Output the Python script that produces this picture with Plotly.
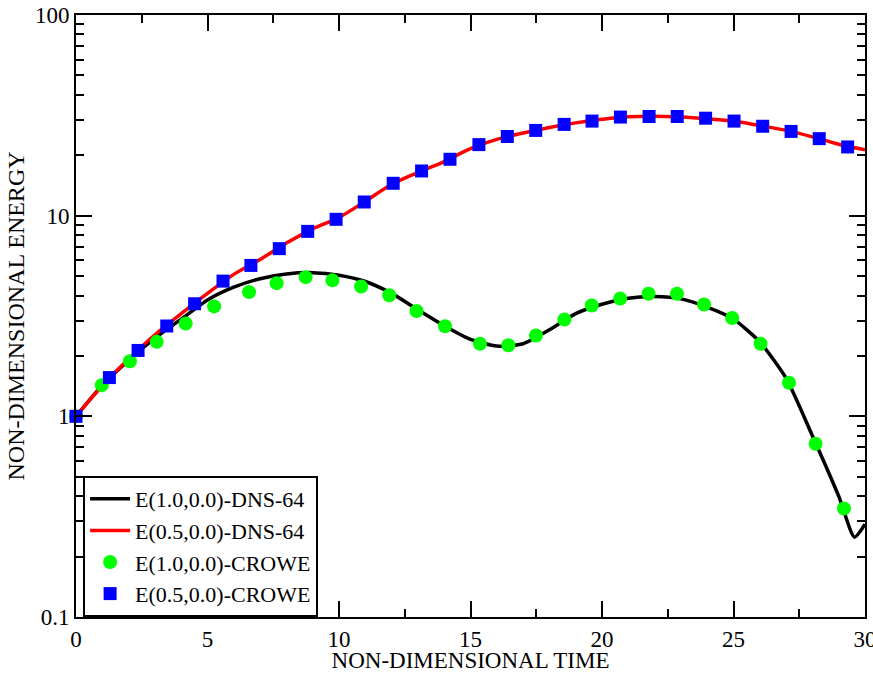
import plotly.graph_objects as go

# ---- data ----
t_dns = [0, 1, 2, 3, 4, 5, 6, 7, 8, 9, 10, 11, 12, 13, 14, 15, 16, 17, 18, 19,
         20, 21, 22, 23, 24, 25, 26, 27, 28, 29, 29.6, 30]
e10_dns = [1.0, 1.43, 1.9, 2.45, 3.05, 3.8, 4.4, 4.85, 5.12, 5.2, 5.05, 4.7, 4.1,
           3.4, 2.83, 2.42, 2.24, 2.3, 2.7, 3.25, 3.62, 3.88, 3.95, 3.85, 3.5,
           3.05, 2.35, 1.55, 0.8, 0.4, 0.25, 0.29]
t_dns05 = [0, 1, 2, 3, 4, 5, 6, 7, 8, 9, 10, 11, 12, 13, 14, 15, 16, 17, 18, 19,
           20, 21, 22, 23, 24, 25, 26, 27, 28, 29, 30]
e05_dns = [1.0, 1.42, 1.93, 2.55, 3.25, 4.1, 5.1, 6.05, 7.3, 8.6, 9.8, 11.8, 14.3,
           16.4, 18.6, 21.6, 24.0, 25.8, 27.5, 29.0, 30.2, 31.1, 31.3, 31.0, 30.4,
           29.6, 28.1, 26.6, 24.7, 22.7, 21.3]

t_crowe10 = [0, 0.98, 2.05, 3.07, 4.17, 5.25, 6.58, 7.63, 8.73, 9.75, 10.84, 11.91,
             12.95, 14.03, 15.36, 16.44, 17.49, 18.57, 19.61, 20.69, 21.77, 22.85,
             23.88, 24.95, 26.03, 27.11, 28.12, 29.2]
e10_crowe = [1.0, 1.43, 1.88, 2.35, 2.9, 3.53, 4.16, 4.61, 4.94, 4.76, 4.44, 4.01,
             3.35, 2.81, 2.3, 2.26, 2.53, 3.04, 3.57, 3.86, 4.08, 4.08, 3.61, 3.09,
             2.3, 1.47, 0.73, 0.347]

t_crowe05 = [0, 1.27, 2.36, 3.45, 4.51, 5.59, 6.65, 7.73, 8.81, 9.89, 10.96, 12.06,
             13.14, 14.22, 15.32, 16.40, 17.48, 18.56, 19.62, 20.70, 21.79, 22.86,
             23.94, 25.02, 26.11, 27.19, 28.26, 29.34]
e05_crowe = [1.0, 1.56, 2.13, 2.82, 3.64, 4.72, 5.65, 6.85, 8.35, 9.59, 11.7, 14.5,
             16.7, 19.1, 22.6, 24.8, 26.6, 28.5, 29.6, 31.0, 31.2, 31.2, 30.6, 29.6,
             27.9, 26.3, 24.2, 22.0]

x_ticks = [0, 5, 10, 15, 20, 25, 30]
y_ticks = [0.1, 1, 10, 100]
y_ticktext = ["0.1", "1", "10", "100"]
y_minor = [0.2, 0.3, 0.4, 0.5, 0.6, 0.7, 0.8, 0.9,
           2, 3, 4, 5, 6, 7, 8, 9,
           20, 30, 40, 50, 60, 70, 80, 90]

FONT = "Liberation Serif, Times New Roman, serif"

fig = go.Figure()
fig.add_trace(go.Scatter(x=t_dns, y=e10_dns, mode="lines", name="E(1.0,0.0)-DNS-64",
                         line=dict(color="#000000", width=3.5, shape="spline",
                                   smoothing=0.6)))
fig.add_trace(go.Scatter(x=t_dns05, y=e05_dns, mode="lines", name="E(0.5,0.0)-DNS-64",
                         line=dict(color="#ff0000", width=3.5, shape="spline")))
fig.add_trace(go.Scatter(x=t_crowe10, y=e10_crowe, mode="markers", name="E(1.0,0.0)-CROWE",
                         marker=dict(symbol="circle", size=14, color="#00ff00",
                                     line=dict(width=0)), cliponaxis=False))
fig.add_trace(go.Scatter(x=t_crowe05, y=e05_crowe, mode="markers", name="E(0.5,0.0)-CROWE",
                         marker=dict(symbol="square", size=13, color="#0000ff",
                                     line=dict(width=0)), cliponaxis=False))

axis_common = dict(showline=True, linecolor="black", linewidth=2, mirror="ticks",
                   ticks="inside", ticklen=16, tickwidth=2, tickcolor="black",
                   showgrid=False, zeroline=False, ticklabeloverflow="allow",
                   tickfont=dict(family=FONT, size=23, color="black"))

fig.update_xaxes(range=[0, 30], tickmode="array", tickvals=x_ticks,
                 minor=dict(ticks="inside", ticklen=8, tickwidth=2, tickcolor="black",
                            dtick=2.5, showgrid=False),
                 title=dict(text="NON-DIMENSIONAL TIME", standoff=0,
                            font=dict(family=FONT, size=23, color="black")),
                 **axis_common)
fig.update_yaxes(type="log", range=[-1, 2], tickmode="array", tickvals=y_ticks,
                 ticktext=y_ticktext,
                 minor=dict(ticks="inside", ticklen=8, tickwidth=2, tickcolor="black",
                            tickmode="array", tickvals=y_minor, showgrid=False),
                 title=dict(text="NON-DIMENSIONAL ENERGY", standoff=4,
                            font=dict(family=FONT, size=24, color="black")),
                 **axis_common)

fig.update_layout(
    width=873, height=673,
    margin=dict(l=76, r=8, t=15, b=56, autoexpand=False),
    paper_bgcolor="white", plot_bgcolor="white",
    showlegend=True,
    legend=dict(x=0.009, y=0, xanchor="left", yanchor="bottom",
                bgcolor="white", bordercolor="black", borderwidth=2,
                font=dict(family=FONT, size=22, color="black"),
                tracegroupgap=0, itemwidth=40),
)

fig.write_html("out.html", config={"displayModeBar": False},
               post_script="document.body.style.margin='0px';document.body.style.padding='0px';")
